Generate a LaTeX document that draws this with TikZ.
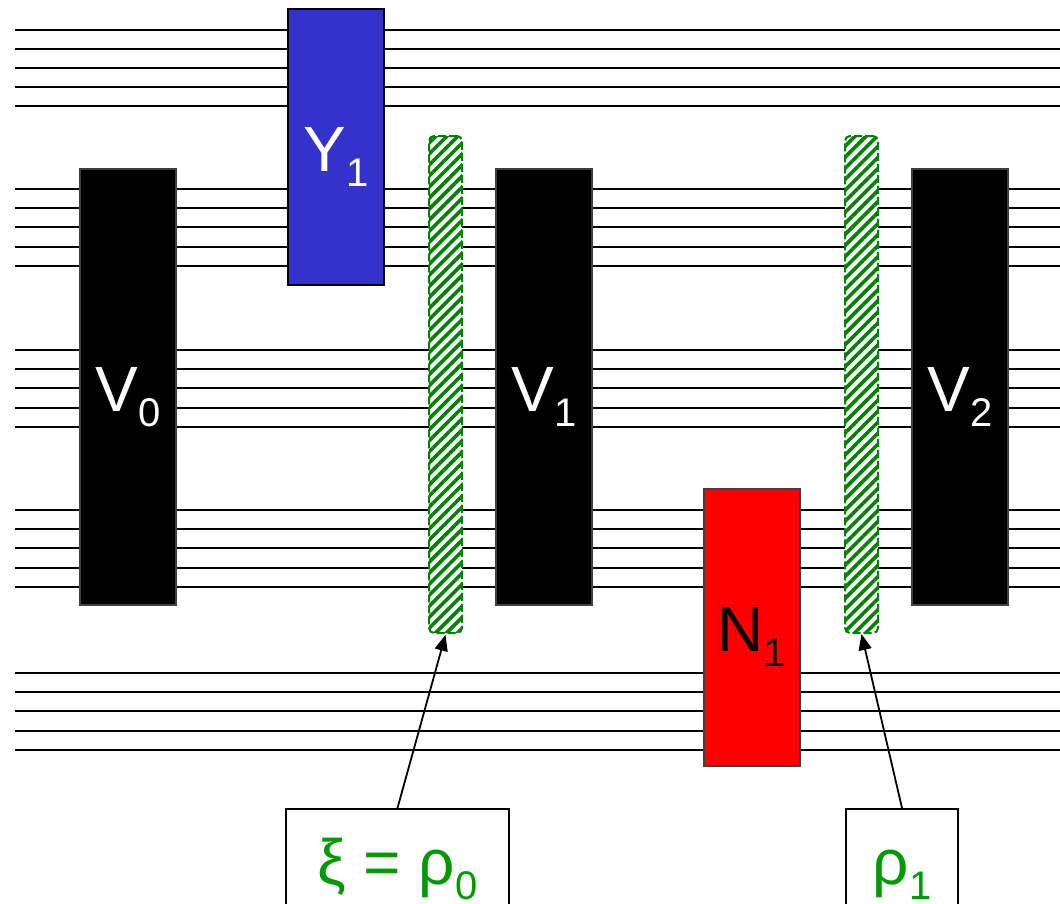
\documentclass[tikz,border=0pt]{standalone}
\usepackage{fontspec}
\setmainfont{Liberation Sans}
\usetikzlibrary{arrows.meta,patterns.meta}
\definecolor{gateblue}{RGB}{51,51,204}
\definecolor{gatered}{RGB}{255,0,0}
\definecolor{hatchgreen}{RGB}{0,128,0}
\definecolor{textgreen}{RGB}{0,153,0}
% main symbol with a lowered index
\newcommand{\opsym}[2]{#1\raisebox{-15pt}{\fontsize{40}{40}\selectfont #2}}
\begin{document}
\begin{tikzpicture}[x=1pt,y=-1pt,
  wire/.style={line width=2pt,black},
  gate/.style={rectangle,draw=black!75,line width=1.5pt,inner sep=0pt,minimum width=96pt},
  gatelabel/.style={anchor=base,inner sep=0pt,font=\fontsize{64}{64}\selectfont},
  statebar/.style={rectangle,inner sep=0pt,minimum width=33pt,minimum height=497pt,
    draw=hatchgreen,line width=2pt,dash pattern=on 8pt off 3pt,rounded corners=5pt,
    preaction={fill=white},
    pattern={Lines[angle=45,distance=7.8pt,line width=3.6pt]},pattern color=hatchgreen},
  tagbox/.style={rectangle,draw=black,line width=2pt,inner sep=0pt,minimum height=131pt,fill=white},
  taglabel/.style={anchor=base,inner sep=0pt,text=textgreen,font=\fontsize{64}{64}\selectfont},
  ptr/.style={-{Triangle[length=16pt,width=13pt]},line width=1.8pt,black}]
\useasboundingbox (0,0) rectangle (1060,903);
\clip (0,0) rectangle (1060,903);

% five bundles of wires
\foreach \g in {29.5,189,350,510,673}{
  \foreach \k in {0,...,4}{
    \draw[wire] (15,{\g+19.2*\k}) -- (1065,{\g+19.2*\k});
  }
}

% unitary blocks
\node[gate,fill=black,minimum height=436pt] (V0) at (128,387) {};
\node[gate,fill=gateblue,draw=black,minimum height=276pt] (Y1) at (336,147) {};
\node[gate,fill=black,minimum height=436pt] (V1) at (544,387) {};
\node[gate,fill=gatered,minimum height=277pt] (N1) at (752,627.5) {};
\node[gate,fill=black,minimum height=436pt] (V2) at (960,387) {};

\node[gatelabel,text=white] (tV0) at ([yshift=-24pt]V0.center) {\opsym{V}{0}};
\node[gatelabel,text=white] (tY1) at ([yshift=-24pt]Y1.center) {\opsym{Y}{1}};
\node[gatelabel,text=white] (tV1) at ([yshift=-24pt]V1.center) {\opsym{V}{1}};
\node[gatelabel,text=black] (tN1) at ([yshift=-23.5pt]N1.center) {\opsym{N}{1}};
\node[gatelabel,text=white] (tV2) at ([yshift=-24pt]V2.center) {\opsym{V}{2}};

% intermediate states
\node[statebar] (bar1) at (445.5,384.5) {};
\node[statebar] (bar2) at (861.5,384.5) {};

% state labels
\node[tagbox,minimum width=223pt] (tag1) at (397.5,874.5) {};
\node[tagbox,minimum width=112pt] (tag2) at (902,874.5) {};
\node[taglabel] (ttag1) at ([yshift=-9.5pt]tag1.center) {ξ = \opsym{ρ}{0}};
\node[taglabel] (ttag2) at ([yshift=-9.5pt]tag2.center) {\opsym{ρ}{1}};

\draw[ptr] (tag1.north) -- (bar1.south);
\draw[ptr] (tag2.north) -- (bar2.south);
\end{tikzpicture}
\end{document}
